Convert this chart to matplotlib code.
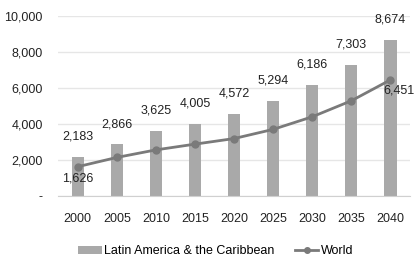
import matplotlib.pyplot as plt

plt.rcParams['font.family'] = ['Liberation Sans Narrow', 'Liberation Sans', 'DejaVu Sans']

years = ['2000', '2005', '2010', '2015', '2020', '2025', '2030', '2035', '2040']
latam = [2183, 2866, 3625, 4005, 4572, 5294, 6186, 7303, 8674]
world = [1626, 2140, 2560, 2880, 3190, 3700, 4400, 5290, 6451]

fig = plt.figure(figsize=(4.15, 2.62), dpi=100)
ax = fig.add_axes([0.14, 0.252, 0.848, 0.687])

x = range(len(years))
bars = ax.bar(x, latam, 0.31, color='#a9a9a9', label='Latin America & the Caribbean', zorder=2)
line, = ax.plot(x, world, color='#7a7a7a', lw=2, marker='o', ms=5, label='World', zorder=3)

for i, v in enumerate(latam):
    ax.annotate(f'{v:,}', (i, v), xytext=(0, 10), textcoords='offset points',
                ha='center', va='bottom', fontsize=9, color='#222222')
ax.annotate(f'{world[0]:,}', (0, world[0]), xytext=(0, -4), textcoords='offset points',
            ha='center', va='top', fontsize=9, color='#222222')
ax.annotate(f'{world[-1]:,}', (8, world[-1]), xytext=(6, -3), textcoords='offset points',
            ha='center', va='top', fontsize=9, color='#222222')

ax.set_xlim(-0.5, 8.5)
ax.set_ylim(0, 10000)
ax.set_yticks(range(0, 10001, 2000))
ax.set_yticklabels(['-' if t == 0 else f'{t:,}' for t in range(0, 10001, 2000)])
ax.set_xticks(list(x))
ax.set_xticklabels(years)
ax.yaxis.grid(True, color='#e6e6e6', lw=1, zorder=0)
ax.set_axisbelow(True)
for s in ['top', 'right', 'left']:
    ax.spines[s].set_visible(False)
ax.spines['bottom'].set_color('#d0d0d0')
ax.tick_params(length=0, labelsize=9, colors='#222222', pad=12)
ax.tick_params(axis='y', pad=11)

fig.legend([bars, line], ['Latin America & the Caribbean', 'World'],
           loc='lower center', bbox_to_anchor=(0.52, -0.025), ncol=2, frameon=False,
           fontsize=9, handlelength=1.9, handletextpad=0.2, columnspacing=1.6,
           markerscale=0.8)

fig.savefig('out.png', dpi=100)
